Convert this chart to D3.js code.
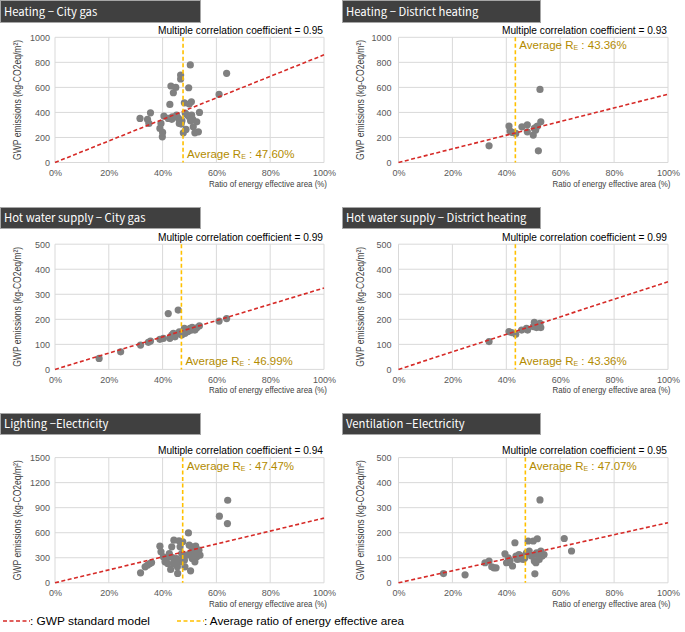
<!DOCTYPE html>
<html><head><meta charset="utf-8">
<script src="https://cdn.jsdelivr.net/npm/d3@7/dist/d3.min.js"></script>
<style>
body{margin:0;background:#fff;}
svg{display:block;}
</style></head>
<body><div id="chart"></div>
<script>
// ---------- data ----------
const panelTitles = ["Heating − City gas", "Heating − District heating", "Hot water supply − City gas", "Hot water supply − District heating", "Lighting −Electricity", "Ventilation −Electricity"];
const coefficients = ["0.95", "0.93", "0.99", "0.99", "0.94", "0.95"];
const avgRatios = [47.60, 43.36, 46.99, 43.36, 47.47, 47.07];
const modelAt100 = [860, 545, 325, 350, 775, 240];
const yMaxes = [1000, 1000, 500, 500, 1500, 500];
const yTickSteps = [200, 200, 100, 100, 300, 100];
const avgLabelTop = [false, true, false, false, true, true];
const xTicks = [0, 20, 40, 60, 80, 100];

const heatGasX = [31.6,34.4,34.9,35.5,39.0,39.4,40.0,39.9,40.5,42.7,43.1,44.0,44.9,42.1,43.6,45.2,45.9,46.2,46.7,46.7,46.9,47.2,47.7,48.1,48.7,49.2,49.7,50.3,49.9,50.7,49.9,50.8,51.2,50.4,51.4,52.0,52.7,53.3,53.7,61.0,63.8,43.4,48.4];
const heatGasY = [352,344,312,397,272,312,240,205,371,464,611,557,600,352,365,379,352,312,699,667,307,333,237,477,264,379,597,779,467,485,365,379,344,333,285,237,325,245,400,544,712,345,395];

const heatDhX = [33.6,41.0,41.4,42.3,43.5,45.8,47.8,47.8,50.0,50.4,50.9,51.2,51.6,51.9,52.5,52.8];
const heatDhY = [133,291,251,240,232,285,301,245,219,272,259,285,291,93,584,325];

const hwGasX = [16.4,24.4,31.8,34.7,35.5,39.0,40.3,42.1,45.8,42.7,43.4,44.0,44.6,45.2,46.2,47.1,47.7,48.3,48.9,49.6,50.2,50.8,51.4,52.0,52.7,53.7,61.0,63.8,46.8,48.1,49.2,51.0];
const hwGasY = [44,70,97,108,113,120,124,223,237,124,137,144,130,141,150,137,150,144,157,153,164,157,161,157,166,174,193,203,148,164,150,168];

const hwDhX = [33.6,41.0,42.0,43.5,45.7,47.5,47.9,50.0,50.4,51.2,51.6,52.2,52.5,52.8];
const hwDhY = [111,151,147,140,157,164,157,171,188,167,177,171,184,167];

const lightX = [31.8,33.5,34.4,35.3,35.9,39.0,39.4,40.3,40.9,41.5,41.9,42.5,43.0,43.4,43.7,44.0,44.2,44.9,45.2,45.5,45.6,46.1,46.5,46.7,47.1,47.5,47.7,48.1,48.3,48.9,49.6,49.9,50.2,50.4,50.8,51.0,51.4,51.8,52.0,52.3,52.7,53.0,53.5,53.9,61.1,64.1,64.2];
const lightY = [120,191,211,231,243,439,371,311,251,291,231,351,160,431,303,231,511,251,291,191,112,503,431,251,351,491,311,271,191,331,598,451,351,144,431,291,391,331,251,439,311,371,391,331,798,710,989];

const ventX = [16.7,24.7,32.1,33.6,34.6,35.4,36.2,39.5,40.1,40.7,41.4,42.3,43.2,43.6,44.1,44.7,45.1,45.7,46.3,46.9,47.5,48.1,48.5,49.4,50.0,50.4,50.6,51.0,51.2,51.5,51.9,52.2,52.5,52.8,53.3,54.0,61.5,64.2];
const ventY = [37,32,80,87,64,60,60,116,80,100,89,67,160,107,93,113,96,107,93,100,120,167,127,107,167,87,36,80,120,176,107,93,331,127,107,113,177,127];

const panelX = [heatGasX, heatDhX, hwGasX, hwDhX, lightX, ventX];
const panelY = [heatGasY, heatDhY, hwGasY, hwDhY, lightY, ventY];

const legendLabels = [": GWP standard model", ": Average ratio of energy effective area"];
const xAxisTitle = "Ratio of energy  effective area (%)";

// ---------- layout ----------
const W = 685, H = 632;
const colLeft = [55, 398.5], colWidth = [269, 269.5];
const tickPad = [5, 7];
const rowTop = [37.3, 244.2, 457.6], plotH = 125.2;
const titleBoxes = [[0,0,200,22],[342,0,198,22],[0,207,200,21],[342,207,198,21],[0,413,200,21],[342,413,198,21]];

const svg = d3.select("#chart").append("svg").attr("width", W).attr("height", H);
const font = "'Liberation Sans',Arial,sans-serif";
const colors = {grid:"#d9d9d9", pt:"#808080", red:"#d62a27", orange:"#ffc000", gold:"#b38b00", tick:"#595959"};

for (let i = 0; i < 6; i++) {
  const col = i % 2, row = Math.floor(i / 2);
  const x0 = colLeft[col], w = colWidth[col], y0 = rowTop[row];
  const g = svg.append("g");
  const x = d3.scaleLinear().domain([0, 100]).range([x0, x0 + w]);
  const y = d3.scaleLinear().domain([0, yMaxes[i]]).range([y0 + plotH, y0]);
  const yTicks = d3.range(0, yMaxes[i] + 1, yTickSteps[i]);

  // title box
  const tb = titleBoxes[i];
  g.append("rect").attr("x", tb[0] + 0.5).attr("y", tb[1] + 0.5).attr("width", tb[2]).attr("height", tb[3])
    .attr("fill", "#404040").attr("stroke", "#a6a6a6").attr("stroke-width", 1);
  g.append("text").attr("x", tb[0] + 4).attr("y", tb[1] + tb[3] / 2 + 4.5)
    .attr("fill", "#fff").attr("font-family", "'Noto Sans CJK KR','Noto Sans',sans-serif")
    .attr("font-size", 11.3).text(panelTitles[i]);

  // grid
  g.selectAll(".hg").data(yTicks).join("line")
    .attr("x1", x0).attr("x2", x0 + w).attr("y1", d => y(d)).attr("y2", d => y(d))
    .attr("stroke", colors.grid).attr("stroke-width", 1);
  g.selectAll(".vg").data(xTicks).join("line")
    .attr("x1", d => x(d)).attr("x2", d => x(d)).attr("y1", y0).attr("y2", y0 + plotH)
    .attr("stroke", colors.grid).attr("stroke-width", 1);

  // axes (labels only)
  const ya = d3.axisLeft(y).tickValues(yTicks).tickFormat(d3.format("d")).tickSize(0).tickPadding(tickPad[col]);
  const yg = g.append("g").attr("transform", `translate(${x0},0)`).call(ya);
  yg.select(".domain").remove();
  yg.selectAll("text").attr("font-family", font).attr("font-size", 9).attr("fill", colors.tick);

  const xa = d3.axisBottom(x).tickValues(xTicks).tickFormat(d => d + "%").tickSize(0).tickPadding(7);
  const xg = g.append("g").attr("transform", `translate(0,${y0 + plotH})`).call(xa);
  xg.select(".domain").remove();
  xg.selectAll("text").attr("font-family", font).attr("font-size", 9).attr("fill", colors.tick);

  // axis titles
  g.append("text").attr("transform", `translate(${x0 - 34.5},${y0 + plotH / 2}) rotate(-90)`)
    .attr("text-anchor", "middle").attr("font-family", font).attr("font-size", 10.5).attr("fill", "#404040")
    .attr("textLength", 120).attr("lengthAdjust", "spacingAndGlyphs")
    .text("GWP emissions (kg-CO2eq/m²)");
  g.append("text").attr("x", x0 + 154).attr("y", y0 + plotH + 24)
    .attr("font-family", font).attr("font-size", 9.5).attr("fill", "#404040")
    .attr("textLength", 118).attr("lengthAdjust", "spacingAndGlyphs").text(xAxisTitle);

  // points
  const pts = panelX[i].map((v, k) => [v, panelY[i][k]]);
  g.selectAll(".pt").data(pts).join("circle")
    .attr("cx", d => x(d[0])).attr("cy", d => y(d[1])).attr("r", 3.6).attr("fill", colors.pt);

  // model line
  g.append("line").attr("x1", x(0)).attr("y1", y(0)).attr("x2", x(100)).attr("y2", y(modelAt100[i]))
    .attr("stroke", colors.red).attr("stroke-width", 1.6).attr("stroke-dasharray", "4,2.5");

  // average line
  g.append("line").attr("x1", x(avgRatios[i])).attr("x2", x(avgRatios[i])).attr("y1", y0).attr("y2", y0 + plotH)
    .attr("stroke", colors.orange).attr("stroke-width", 1.6).attr("stroke-dasharray", "4,2.5");

  // average label
  const at = g.append("text").attr("x", x(avgRatios[i]) + 4)
    .attr("y", avgLabelTop[i] ? y0 + 12 : y0 + plotH - 4.5)
    .attr("font-family", font).attr("font-size", 11.5).attr("fill", colors.gold);
  at.append("tspan").text("Average R");
  at.append("tspan").attr("font-size", 7).attr("dy", 1).text("E");
  at.append("tspan").attr("dy", -1).text(" : " + avgRatios[i].toFixed(2) + "%");

  // coefficient
  g.append("text").attr("x", x0 + w - 1).attr("y", y0 - 3.5).attr("text-anchor", "end")
    .attr("font-family", font).attr("font-size", 11).attr("fill", "#000")
    .attr("textLength", 165).attr("lengthAdjust", "spacingAndGlyphs")
    .text("Multiple correlation coefficient = " + coefficients[i]);
}

// legend
const lg = svg.append("g");
const legendColors = [colors.red, colors.orange];
const legendX = [3, 177];
const legendW = [120, 200];
legendLabels.forEach((t, k) => {
  lg.append("line").attr("x1", legendX[k]).attr("x2", legendX[k] + 27).attr("y1", 621).attr("y2", 621)
    .attr("stroke", legendColors[k]).attr("stroke-width", 1.6).attr("stroke-dasharray", "4,2.5");
  lg.append("text").attr("x", legendX[k] + 27).attr("y", 625).attr("font-family", font)
    .attr("font-size", 11).attr("fill", "#000")
    .attr("textLength", legendW[k]).attr("lengthAdjust", "spacingAndGlyphs").text(t);
});
</script>
</body></html>
